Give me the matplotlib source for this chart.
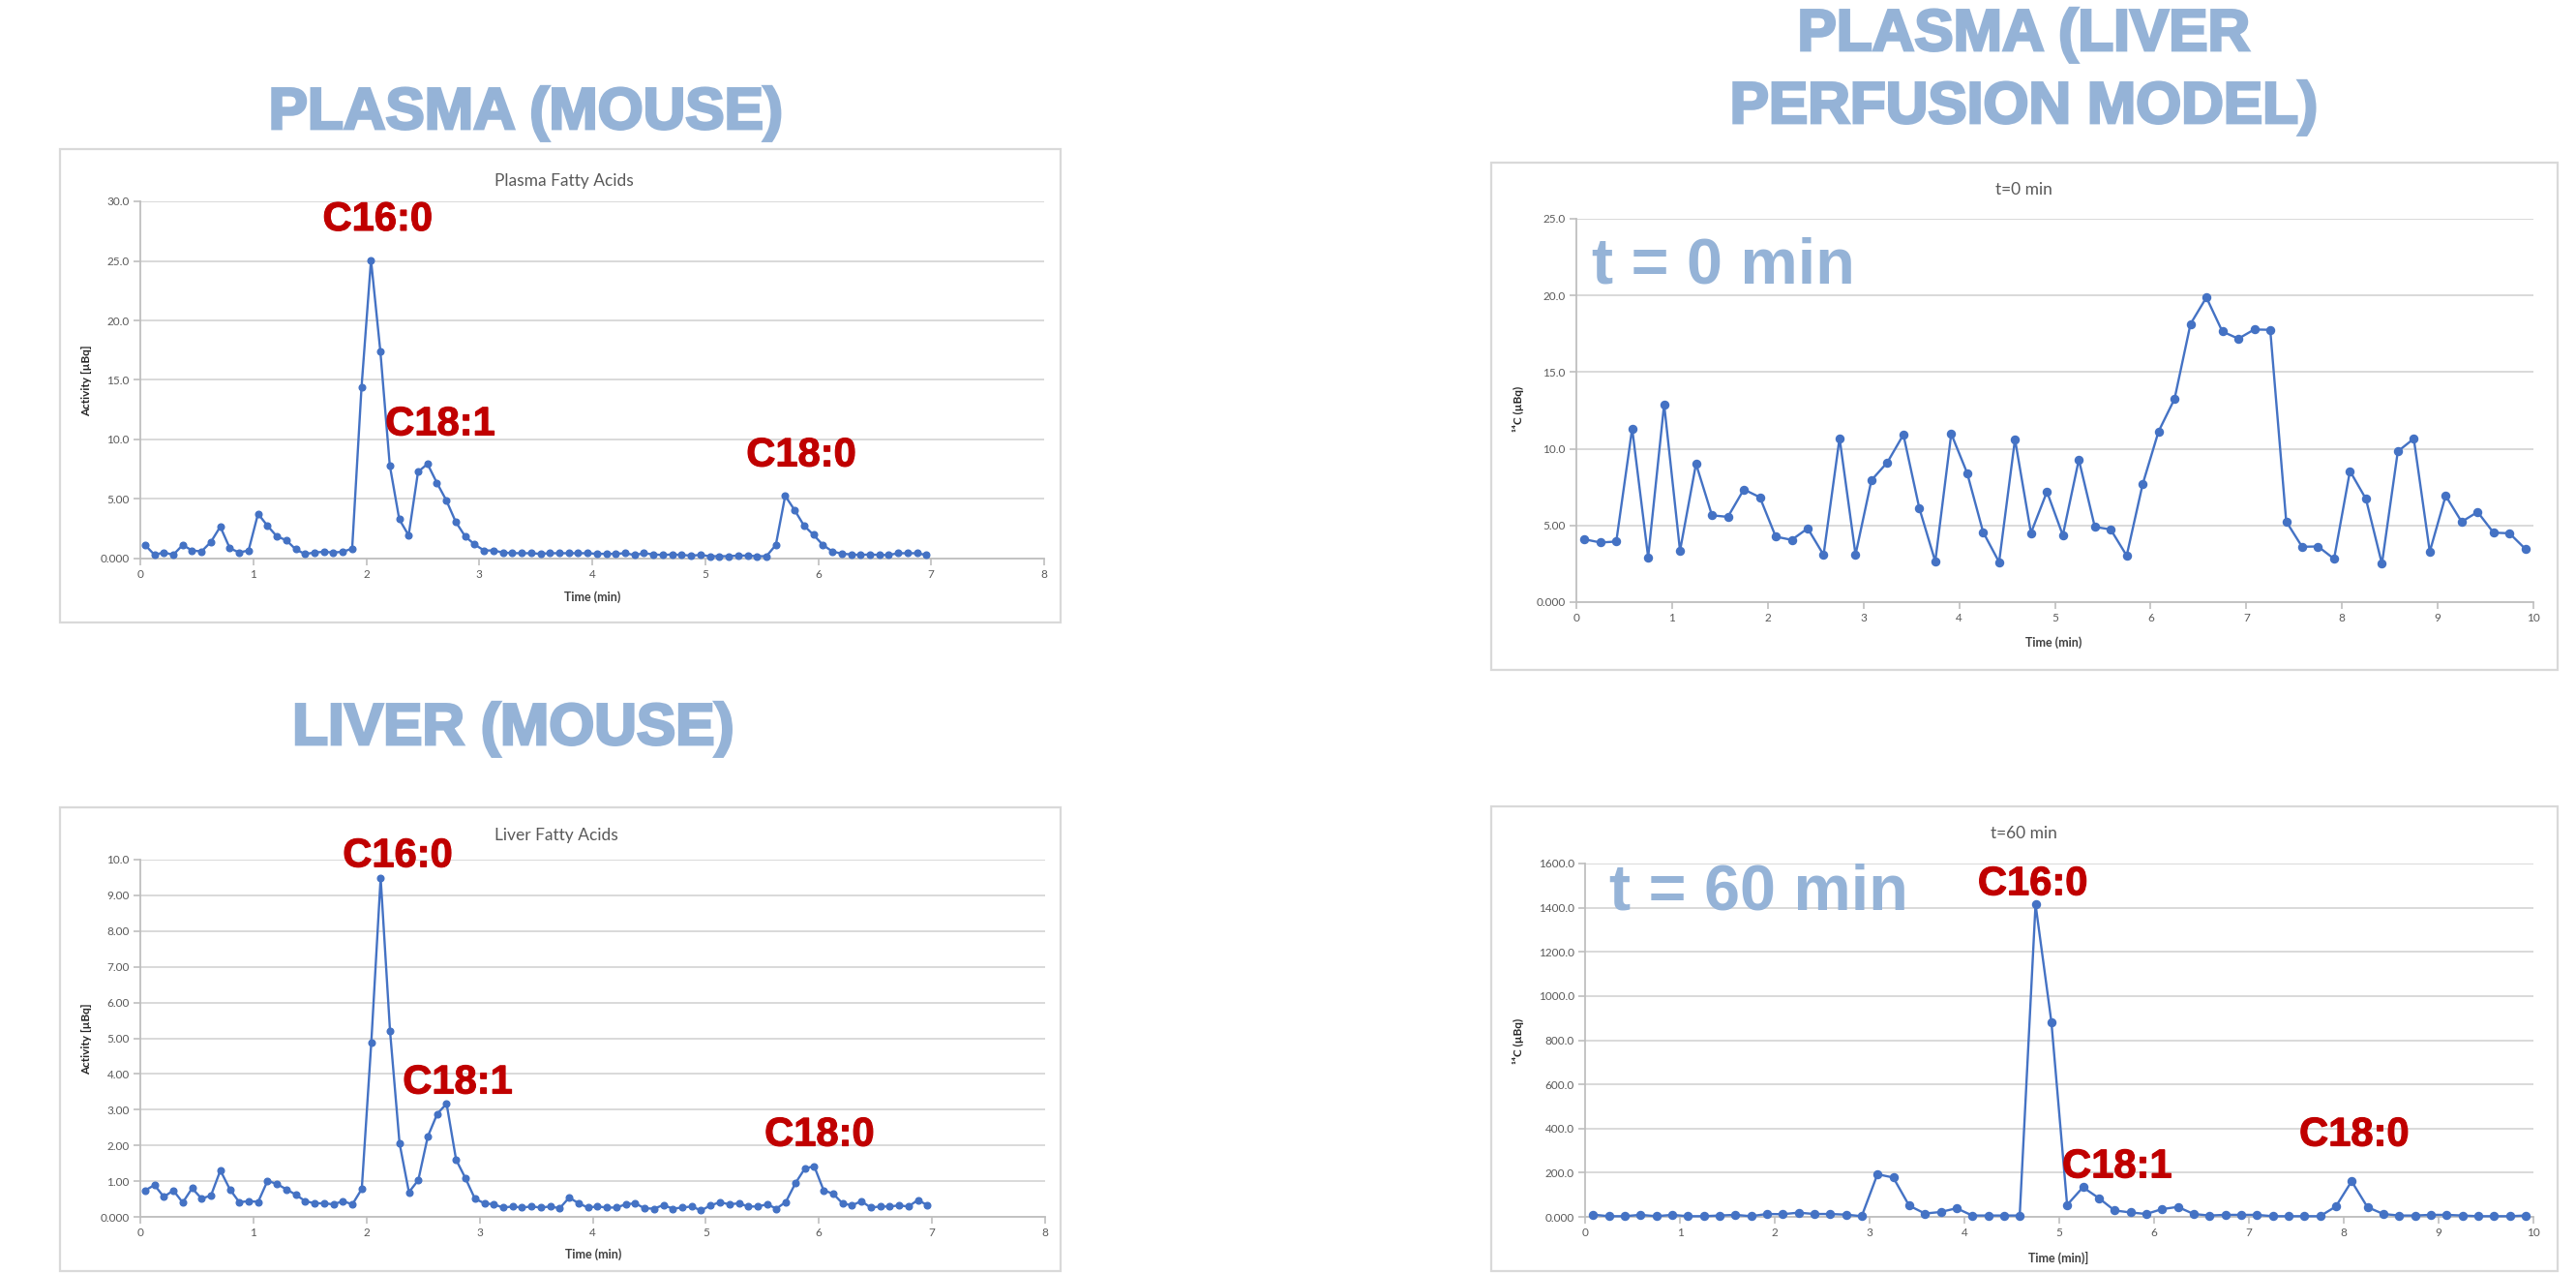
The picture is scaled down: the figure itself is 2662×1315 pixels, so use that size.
import matplotlib
matplotlib.use("Agg")
import matplotlib.pyplot as plt
from matplotlib.patches import Rectangle
import matplotlib.patheffects as pe

# ---------------- data ----------------
mouse_time = [0.042, 0.125, 0.208, 0.292, 0.375, 0.458, 0.542, 0.625, 0.708, 0.792, 0.875, 0.958,
              1.042, 1.125, 1.208, 1.292, 1.375, 1.458, 1.542, 1.625, 1.708, 1.792, 1.875, 1.958,
              2.042, 2.125, 2.208, 2.292, 2.375, 2.458, 2.542, 2.625, 2.708, 2.792, 2.875, 2.958,
              3.042, 3.125, 3.208, 3.292, 3.375, 3.458, 3.542, 3.625, 3.708, 3.792, 3.875, 3.958,
              4.042, 4.125, 4.208, 4.292, 4.375, 4.458, 4.542, 4.625, 4.708, 4.792, 4.875, 4.958,
              5.042, 5.125, 5.208, 5.292, 5.375, 5.458, 5.542, 5.625, 5.708, 5.792, 5.875, 5.958,
              6.042, 6.125, 6.208, 6.292, 6.375, 6.458, 6.542, 6.625, 6.708, 6.792, 6.875, 6.958]

plasma_mouse = [1.14, 0.32, 0.51, 0.32, 1.14, 0.68, 0.60, 1.40, 2.68, 0.87, 0.51, 0.68,
                3.76, 2.76, 1.87, 1.54, 0.78, 0.38, 0.51, 0.57, 0.51, 0.57, 0.84, 14.39,
                25.07, 17.37, 7.84, 3.30, 1.95, 7.28, 7.95, 6.36, 4.90, 3.08, 1.87, 1.19,
                0.68, 0.68, 0.51, 0.46, 0.45, 0.45, 0.40, 0.45, 0.45, 0.45, 0.45, 0.45,
                0.40, 0.40, 0.40, 0.45, 0.30, 0.45, 0.35, 0.30, 0.35, 0.30, 0.25, 0.30,
                0.20, 0.20, 0.20, 0.25, 0.25, 0.20, 0.20, 1.14, 5.27, 4.06, 2.76, 2.00,
                1.14, 0.60, 0.41, 0.35, 0.30, 0.35, 0.30, 0.30, 0.45, 0.45, 0.45, 0.30]

liver_mouse = [0.74, 0.89, 0.56, 0.74, 0.40, 0.80, 0.51, 0.60, 1.30, 0.77, 0.41, 0.44,
               0.42, 1.01, 0.92, 0.77, 0.62, 0.44, 0.38, 0.38, 0.35, 0.44, 0.35, 0.78,
               4.87, 9.49, 5.20, 2.06, 0.69, 1.03, 2.25, 2.88, 3.17, 1.60, 1.08, 0.51,
               0.38, 0.35, 0.26, 0.29, 0.26, 0.29, 0.26, 0.29, 0.24, 0.54, 0.38, 0.26,
               0.29, 0.26, 0.26, 0.35, 0.38, 0.24, 0.23, 0.33, 0.23, 0.26, 0.29, 0.18,
               0.32, 0.41, 0.35, 0.38, 0.29, 0.29, 0.35, 0.23, 0.42, 0.94, 1.35, 1.42,
               0.74, 0.65, 0.38, 0.32, 0.44, 0.26, 0.29, 0.29, 0.32, 0.29, 0.47, 0.33]

perf_time = [0.083, 0.250, 0.417, 0.583, 0.750, 0.917,
             1.083, 1.250, 1.417, 1.583, 1.750, 1.917,
             2.083, 2.250, 2.417, 2.583, 2.750, 2.917,
             3.083, 3.250, 3.417, 3.583, 3.750, 3.917,
             4.083, 4.250, 4.417, 4.583, 4.750, 4.917,
             5.083, 5.250, 5.417, 5.583, 5.750, 5.917,
             6.083, 6.250, 6.417, 6.583, 6.750, 6.917,
             7.083, 7.250, 7.417, 7.583, 7.750, 7.917,
             8.083, 8.250, 8.417, 8.583, 8.750, 8.917,
             9.083, 9.250, 9.417, 9.583, 9.750, 9.917]

perf_t0 = [4.10, 3.89, 3.95, 11.32, 2.93, 12.90,
           3.35, 9.02, 5.66, 5.56, 7.35, 6.84,
           4.27, 4.06, 4.81, 3.08, 10.70, 3.10,
           7.95, 9.12, 10.92, 6.13, 2.65, 10.98,
           8.42, 4.57, 2.61, 10.62, 4.51, 7.20,
           4.36, 9.29, 4.91, 4.74, 3.03, 7.69,
           11.13, 13.25, 18.14, 19.87, 17.65, 17.18,
           17.78, 17.76, 5.26, 3.61, 3.63, 2.82,
           8.55, 6.73, 2.50, 9.83, 10.66, 3.29,
           6.94, 5.24, 5.88, 4.53, 4.49, 3.46]

perf_t60 = [10, 3, 3, 9, 3, 9,
            3, 3, 6, 9, 3, 13,
            12, 19, 13, 13, 10, 3,
            193, 178, 51, 15, 22, 39,
            6, 6, 6, 6, 1415, 883,
            54, 134, 85, 29, 20, 13,
            35, 45, 13, 6, 9, 9,
            9, 3, 3, 3, 3, 47,
            161, 44, 13, 6, 6, 9,
            9, 6, 3, 3, 3, 6]

mouse_xticks = [0, 1, 2, 3, 4, 5, 6, 7, 8]
perf_xticks = [0, 1, 2, 3, 4, 5, 6, 7, 8, 9, 10]

plasma_yticks = [0, 5, 10, 15, 20, 25, 30]
plasma_ylabels = ["0.000", "5.00", "10.0", "15.0", "20.0", "25.0", "30.0"]
liver_yticks = [0, 1, 2, 3, 4, 5, 6, 7, 8, 9, 10]
liver_ylabels = ["0.000", "1.00", "2.00", "3.00", "4.00", "5.00", "6.00", "7.00", "8.00", "9.00", "10.0"]
t0_yticks = [0, 5, 10, 15, 20, 25]
t0_ylabels = ["0.000", "5.00", "10.0", "15.0", "20.0", "25.0"]
t60_yticks = [0, 200, 400, 600, 800, 1000, 1200, 1400, 1600]
t60_ylabels = ["0.000", "200.0", "400.0", "600.0", "800.0", "1000.0", "1200.0", "1400.0", "1600.0"]

# ---------------- style ----------------
W, H = 2662, 1315
DPI = 100
BLUE = "#4472C4"
HEAD = "#95B3D7"
RED = "#C00000"
GRID = "#D9D9D9"
AXC = "#BFBFBF"
TXT = "#595959"
LAB = "#404040"

plt.rcParams["font.family"] = ["Lato", "DejaVu Sans"]

fig = plt.figure(figsize=(W / DPI, H / DPI), dpi=DPI)
fig.patch.set_facecolor("white")


def fx(x):
    return x / W


def fy(y):
    return 1 - y / H


def box(l, t, r, b):
    fig.patches.append(Rectangle((fx(l), fy(b)), (r - l) / W, (b - t) / H,
                                 transform=fig.transFigure, fill=False,
                                 edgecolor=GRID, linewidth=1.6, zorder=0))


def make_axes(l, t, r, b):
    ax = fig.add_axes([fx(l), fy(b), (r - l) / W, (b - t) / H])
    for s in ("top", "right"):
        ax.spines[s].set_visible(False)
    for s in ("left", "bottom"):
        ax.spines[s].set_color(AXC)
        ax.spines[s].set_linewidth(1.3)
    ax.grid(axis="y", color=GRID, linewidth=1.4)
    ax.set_axisbelow(True)
    ax.tick_params(axis="both", colors=AXC, length=5, width=1.2,
                   labelcolor=TXT, labelsize=8.5, pad=3)
    return ax


def header(text, cx, base):
    fig.text(fx(cx), fy(base), text, ha="center", va="baseline",
             fontsize=43.5, fontweight="bold", color=HEAD,
             family=["Liberation Sans", "DejaVu Sans"],
             path_effects=[pe.Stroke(linewidth=2.0, foreground=HEAD,
                                     joinstyle="miter"), pe.Normal()])


def chart_title(text, cx, cy):
    fig.text(fx(cx), fy(cy), text, ha="center", va="center",
             fontsize=12.5, color=TXT)


def xlab(text, cx, cy):
    fig.text(fx(cx), fy(cy), text, ha="center", va="center",
             fontsize=9, fontweight="bold", color=LAB)


def ylab(text, cx, cy):
    fig.text(fx(cx), fy(cy), text, ha="center", va="center", rotation=90,
             fontsize=8.5, fontweight="bold", color="#262626",
             family=["Lato", "DejaVu Sans"])


def red(ax, text, x, y):
    ax.text(x, y, text, ha="center", va="baseline", fontsize=30,
            fontweight="bold", color=RED, clip_on=False,
            family=["Liberation Sans", "DejaVu Sans"],
            path_effects=[pe.Stroke(linewidth=0.8, foreground=RED,
                                    joinstyle="miter"), pe.Normal()])


def big(ax, text, x, y):
    ax.text(x, y, text, ha="left", va="baseline", fontsize=48,
            fontweight="bold", color=HEAD, clip_on=False,
            family=["Liberation Sans", "DejaVu Sans"])


# ---------------- headers ----------------
header("PLASMA (MOUSE)", 543, 133)
header("LIVER (MOUSE)", 530, 769)
header("PLASMA (LIVER", 2091, 52)
header("PERFUSION MODEL)", 2091, 127)

# ---------------- chart boxes ----------------
box(62, 154, 1096, 643)
box(62, 834, 1096, 1313)
box(1541, 168, 2643, 692)
box(1541, 833, 2643, 1313)

# ---------------- panel 1: plasma (mouse) ----------------
ax1 = make_axes(145, 208, 1079, 577)
ax1.plot(mouse_time, plasma_mouse, color=BLUE, linewidth=1.7,
         marker="o", markersize=4.8, clip_on=False, zorder=3)
ax1.set_xlim(0, 8)
ax1.set_ylim(0, 30)
ax1.set_xticks(mouse_xticks)
ax1.set_yticks(plasma_yticks)
ax1.set_yticklabels(plasma_ylabels)
red(ax1, "C16:0", 2.10, 27.56)
red(ax1, "C18:1", 2.655, 10.37)
red(ax1, "C18:0", 5.85, 7.76)
chart_title("Plasma Fatty Acids", 583, 187)
xlab("Time (min)", 612, 617)
ylab("Activity [µBq]", 90, 393)

# ---------------- panel 3: liver (mouse) ----------------
ax3 = make_axes(145, 888, 1080, 1257)
ax3.plot(mouse_time, liver_mouse, color=BLUE, linewidth=1.7,
         marker="o", markersize=4.8, clip_on=False, zorder=3)
ax3.set_xlim(0, 8)
ax3.set_ylim(0, 10)
ax3.set_xticks(mouse_xticks)
ax3.set_yticks(liver_yticks)
ax3.set_yticklabels(liver_ylabels)
red(ax3, "C16:0", 2.275, 9.80)
red(ax3, "C18:1", 2.806, 3.455)
red(ax3, "C18:0", 6.005, 1.99)
chart_title("Liver Fatty Acids", 575, 863)
xlab("Time (min)", 613, 1296)
ylab("Activity [µBq]", 90, 1073)

# ---------------- panel 2: perfusion t=0 ----------------
ax2 = make_axes(1629, 226, 2618, 622)
ax2.plot(perf_time, perf_t0, color=BLUE, linewidth=1.7,
         marker="o", markersize=5.8, clip_on=False, zorder=3)
ax2.set_xlim(0, 10)
ax2.set_ylim(0, 25)
ax2.set_xticks(perf_xticks)
ax2.set_yticks(t0_yticks)
ax2.set_yticklabels(t0_ylabels)
big(ax2, "t = 0 min", 0.16, 20.8)
chart_title("t=0 min", 2091, 196)
xlab("Time (min)", 2122, 664)
ylab("¹⁴C (µBq)", 1569, 422)

# ---------------- panel 4: perfusion t=60 ----------------
ax4 = make_axes(1638, 892, 2618, 1257)
ax4.plot(perf_time, perf_t60, color=BLUE, linewidth=1.7,
         marker="o", markersize=5.8, clip_on=False, zorder=3)
ax4.set_xlim(0, 10)
ax4.set_ylim(0, 1600)
ax4.set_xticks(perf_xticks)
ax4.set_yticks(t60_yticks)
ax4.set_yticklabels(t60_ylabels)
big(ax4, "t = 60 min", 0.255, 1390)
red(ax4, "C16:0", 4.72, 1458)
red(ax4, "C18:1", 5.61, 178)
red(ax4, "C18:0", 8.11, 322)
chart_title("t=60 min", 2091, 861)
xlab("Time (min)]", 2127, 1299)
ylab("¹⁴C (µBq)", 1569, 1075)

fig.savefig("out.png", dpi=DPI, facecolor="white")
